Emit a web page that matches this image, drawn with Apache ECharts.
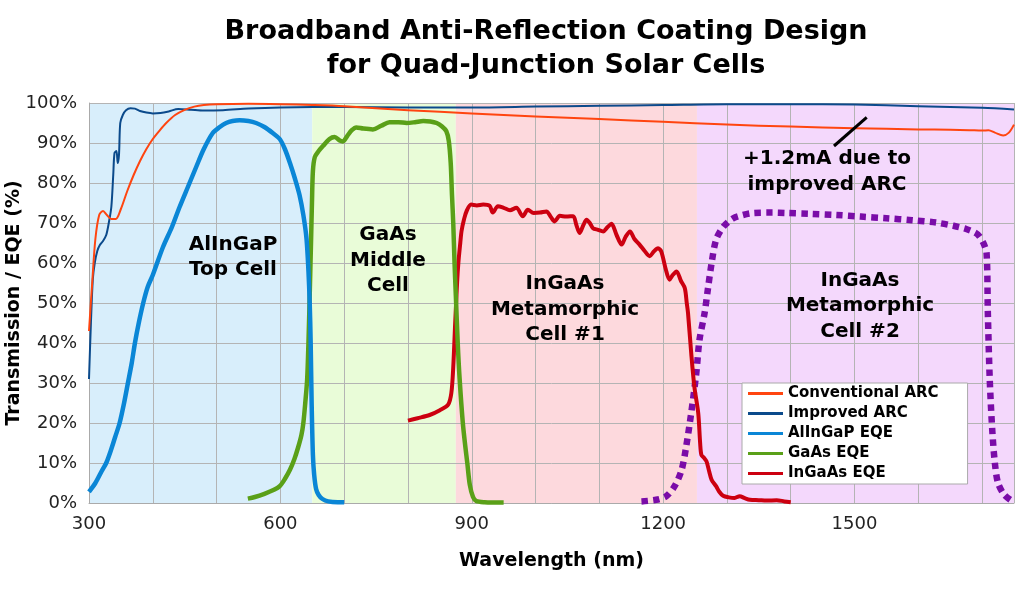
<!DOCTYPE html>
<html><head><meta charset="utf-8">
<script src="https://cdn.jsdelivr.net/npm/echarts@6/dist/echarts.min.js"></script>
<style>html,body{margin:0;padding:0;background:#fff}#c{width:1020px;height:600px}</style>
</head><body><div id="c"></div>
<script>
// ---- data ----
const xLabelTicks = [300, 600, 900, 1200, 1500];
const bandStart = [300, 650, 875, 1253];
const bandEnd = [650, 875, 1253, 1750];

const convX = [300,305,310,316,322,328,335,342,350,360,370,380,390,400,410,421,435,450,465,480,500,550,600,650,700,800,900,1000,1100,1200,1300,1400,1500,1600,1650,1680,1700,1710,1720,1733,1742,1750];
const convY = [43,55,66,72,73,72,71,71,73.5,78,82,85.5,88.5,91,93,95,97,98.3,99.1,99.5,99.7,99.8,99.7,99.5,99.2,98.2,97.4,96.6,96,95.3,94.6,94.1,93.7,93.4,93.3,93.2,93.1,93.2,92.6,91.9,92.6,94.6];

const impX = [300,303,306,309,313,317,322,327,331,335,338,340,343,345,347,349,353,358,365,372,380,390,400,412,425,440,460,480,510,550,600,650,700,800,900,1000,1100,1200,1300,1400,1500,1600,1700,1750];
const impY = [31,45,56,60,63,64.5,65.5,67,70,74,82,87.5,88,85,87,95,97,98.2,98.7,98.6,98,97.6,97.4,97.5,97.9,98.5,98.3,98.1,98.2,98.6,98.9,99,99,98.9,98.9,99.1,99.3,99.5,99.7,99.7,99.6,99.2,98.8,98.4];

const alingapX = [300,310,320,327,335,341,348,355,361,367,372,378,385,392,400,416,430,442,455,468,480,494,505,515,525,536,550,562,575,588,599,607,615,623,630,636,641,644,646,647.5,649,651,653,656,660,666,675,690,700];
const alingapY = [2.8,5,8,10,13.5,16.5,20,25,30,35,40,45,50,54,57,64,69,74,79,84,88.5,92.5,94,95,95.5,95.7,95.5,95,94,92.5,91,88.5,85,81,77,72,66,58,50,40,25,12,7,3.5,2,1,0.4,0.2,0.2];

const gaasX = [549,560,575,590,599,607,615,622,628,633,636,639,642,644,646,648,649.5,651,654,660,667,677,685,693,698,705,712,719,730,745,758,771,785,798,811,824,835,845,853,860,864,867,869,871,873,875,878,881,886,890,893,897,902,907,920,950];
const gaasY = [1.1,1.5,2.3,3.3,4.2,6,8.3,11,14,17,20,25,31,40,52,65,75,83,86.5,88,89.3,91,91.5,90.6,90.4,91.8,93.2,93.9,93.6,93.4,94.3,95.2,95.2,95,95.2,95.5,95.4,95,94.2,93,90.5,85,77,70,60,52,40,31,20,14,10,4.5,1.5,0.5,0.2,0.1];

const ingaasX = [800,815,834,850,863,868,871,874,877,879,882,884,888,892,899,908,918,928,933,941,950,960,970,980,988,997,1007,1017,1024,1030,1038,1048,1059,1064,1069,1075,1080,1085,1090,1098,1106,1113,1119,1127,1135,1141,1148,1155,1163,1171,1179,1185,1192,1197,1204,1210,1215,1221,1228,1234,1237,1239,1244,1249,1255,1258,1260,1264,1268,1272,1276,1283,1288,1294,1303,1312,1320,1328,1336,1350,1362,1378,1390,1400];
const ingaasY = [20.6,21.2,22,23.2,24.6,27.5,34,45,55,60,65,68,71,73,74.6,74.4,74.6,74.3,72.6,74.2,73.8,73.2,73.8,71.7,73.3,72.5,72.6,72.9,71.5,70.4,71.8,71.6,71.7,69.5,67.5,69.5,70.8,70,68.7,68.3,67.9,69,69.8,67,64.6,66.5,67.9,66,64.6,63,61.7,62.8,63.7,62.9,58.5,55.8,57,57.9,55.5,53.7,50,47.5,37.5,29,22.5,15,12,11.3,10.4,8,5.8,4.2,2.8,1.8,1.4,1.25,1.7,1.2,0.8,0.7,0.6,0.7,0.4,0.2];

const cell2X = [1166,1189,1205,1218,1229,1236,1244,1252,1257,1265,1270,1276,1283,1294,1310,1325,1341,1370,1393,1430,1472,1510,1550,1590,1628,1655,1675,1690,1696,1702,1707,1709,1712,1716,1720,1725,1735,1748];
const cell2Y = [0.4,0.8,1.7,4.2,8.3,14,22.5,32.5,40.8,47.5,53.3,60,65.8,69,71.2,72,72.5,72.6,72.5,72.3,72,71.6,71.2,70.7,70.1,69.3,68.5,67.5,66.6,65,62.5,47.5,30.8,18,10,5,2,0.4];

const seriesNames = ['Conventional ARC','Improved ARC','AlInGaP EQE','GaAs EQE','InGaAs EQE'];

// ---- styles ----
const bandColors = ['#d8eefb','#e9fcd8','#fdd9dd','#f4d8fc'];
const FONT = "'DejaVu Sans', Verdana, sans-serif";
const pairs = (xs, ys) => xs.map((x, i) => [x, ys[i]]);

function lineSeries(name, xs, ys, color, width, z, dash) {
  return {
    name: name, type: 'line', data: pairs(xs, ys), z: z,
    showSymbol: false, symbol: 'none', smooth: 0.3,
    itemStyle: {color: color},
    lineStyle: {color: color, width: width, type: dash || 'solid', cap: 'butt', join: 'round'},
    emphasis: {disabled: true}, animation: false
  };
}

const chart = echarts.init(document.getElementById('c'), null, {renderer: 'canvas'});
const textEl = (text, x, y, size, lh) => ({
  type: 'text', z: 100, x: x, y: y,
  style: {text: text, font: 'bold ' + size + 'px ' + FONT, fill: '#000',
          textAlign: 'center', textVerticalAlign: 'middle', lineHeight: lh}
});

chart.setOption({
  animation: false,
  backgroundColor: '#fff',
  grid: {left: 89, right: 6, top: 103, bottom: 97, show: false, containLabel: false, outerBoundsMode: 'none'},
  xAxis: {
    type: 'value', min: 300, max: 1750, interval: 100, z: 1,
    axisLine: {show: true, lineStyle: {color: '#aaaaaa', width: 1}},
    axisTick: {show: false},
    splitLine: {show: true, lineStyle: {color: '#b4b4b4', width: 1}},
    axisLabel: {margin: 12, color: '#222', fontSize: 18, fontFamily: FONT,
      formatter: v => xLabelTicks.includes(v) ? String(v) : ''},
    name: 'Wavelength (nm)', nameLocation: 'middle', nameGap: 49, nameMoveOverlap: false,
    nameTextStyle: {fontSize: 19, fontWeight: 'bold', fontFamily: FONT, color: '#000'}
  },
  yAxis: {
    type: 'value', min: 0, max: 100, interval: 10, z: 1,
    axisLine: {show: true, lineStyle: {color: '#aaaaaa', width: 1}},
    axisTick: {show: false},
    splitLine: {show: true, lineStyle: {color: '#b4b4b4', width: 1}},
    axisLabel: {margin: 12, color: '#222', fontSize: 18, fontFamily: FONT,
      formatter: v => v + '%'},
    name: 'Transmission / EQE (%)', nameLocation: 'middle', nameGap: 65, nameMoveOverlap: false,
    nameTextStyle: {fontSize: 19, fontWeight: 'bold', fontFamily: FONT, color: '#000'}
  },
  legend: {
    data: seriesNames, orient: 'vertical', left: 742, top: 383,
    padding: [3, 29, 3, 6], itemGap: 5, itemWidth: 35, itemHeight: 3, icon: 'rect',
    backgroundColor: '#fff', borderColor: '#aaaaaa', borderWidth: 1, borderRadius: 0,
    textStyle: {fontSize: 15, fontWeight: 'bold', fontFamily: FONT, color: '#000', lineHeight: 15},
    selectedMode: false, z: 50
  },
  graphic: [
    textEl('Broadband Anti-Reflection Coating Design\nfor Quad-Junction Solar Cells', 546, 49, 27, 34),
    textEl('AlInGaP\nTop Cell', 233, 257.5, 20, 25.5),
    textEl('GaAs\nMiddle\nCell', 388, 260.5, 20, 25.5),
    textEl('InGaAs\nMetamorphic\nCell #1', 565, 309.5, 20, 25.5),
    textEl('InGaAs\nMetamorphic\nCell #2', 860, 306, 20, 25.5),
    textEl('+1.2mA due to\nimproved ARC', 827, 172, 20, 25.5),
    {type: 'line', z: 100, shape: {x1: 834, y1: 146, x2: 866.7, y2: 117.3},
     style: {stroke: '#000', lineWidth: 3}}
  ],
  series: [
    {
      type: 'custom', name: 'bands', z: 0, silent: true, coordinateSystem: 'cartesian2d',
      data: bandStart.map((s, i) => [s, bandEnd[i], i]),
      encode: {x: [0, 1]},
      renderItem: function (params, api) {
        const a = api.coord([api.value(0), 100]);
        const b = api.coord([api.value(1), 0]);
        return {type: 'rect', shape: {x: a[0], y: a[1], width: b[0] - a[0], height: b[1] - a[1]},
                style: {fill: bandColors[api.value(2)]}};
      }
    },
    lineSeries('Cell #2 EQE', cell2X, cell2Y, '#7a0ca8', 6.5, 2, [6.5, 5.2]),
    lineSeries('InGaAs EQE', ingaasX, ingaasY, '#cc0010', 4, 3),
    lineSeries('GaAs EQE', gaasX, gaasY, '#5aa018', 4.5, 4),
    lineSeries('AlInGaP EQE', alingapX, alingapY, '#0a86d6', 4.5, 5),
    lineSeries('Improved ARC', impX, impY, '#0b4a8b', 2, 6),
    lineSeries('Conventional ARC', convX, convY, '#ff4510', 2, 7)
  ]
});
</script>
</body></html>
